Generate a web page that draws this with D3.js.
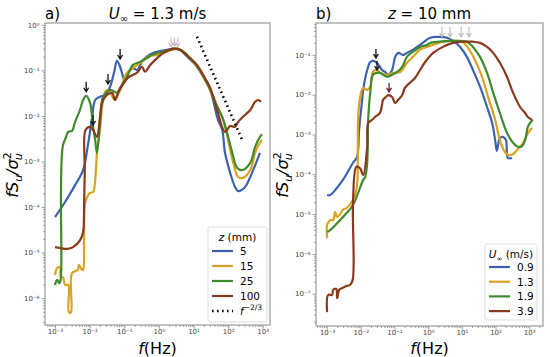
<!DOCTYPE html>
<html>
<head>
<meta charset="utf-8">
<title>Spectra</title>
<script src="https://d3js.org/d3.v7.min.js"></script>
<style>
  body { margin: 0; background: #fff; }
  text { font-family: "DejaVu Sans", sans-serif; }
</style>
</head>
<body>
<svg id="chart" width="550" height="357"></svg>
<script>
// values as log10 pairs: [log10 f, log10 fSu/su^2]
var leftZ5 = [[-3.00,-4.22],[-2.71,-3.89],[-2.42,-3.52],[-2.19,-3.19],[-2.05,-2.64],[-1.93,-2.04],[-1.84,-1.65],[-1.70,-1.58],[-1.55,-1.54],[-1.41,-1.36],[-1.29,-1.03],[-1.21,-0.79],[-1.12,-0.92],[-1.03,-1.16],[-0.98,-1.25],[-0.89,-1.05],[-0.75,-0.95],[-0.63,-0.99],[-0.46,-0.77],[-0.17,-0.62],[0.24,-0.55],[0.47,-0.51],[0.61,-0.55],[0.82,-0.70],[1.10,-0.92],[1.28,-1.14],[1.48,-1.43],[1.71,-2.09],[1.83,-2.31],[1.91,-2.81],[2.06,-3.25],[2.20,-3.56],[2.29,-3.65],[2.49,-3.56],[2.64,-3.34],[2.84,-2.97],[2.92,-2.81]];
var leftZ15 = [[-3.00,-5.49],[-2.94,-5.34],[-2.86,-5.32],[-2.83,-5.54],[-2.77,-5.54],[-2.71,-5.71],[-2.62,-5.71],[-2.60,-6.31],[-2.54,-6.31],[-2.51,-5.45],[-2.34,-5.38],[-2.31,-5.27],[-2.22,-5.38],[-2.19,-5.38],[-2.16,-4.66],[-2.13,-3.91],[-1.99,-3.69],[-1.90,-3.67],[-1.82,-3.19],[-1.79,-2.81],[-1.70,-2.31],[-1.64,-1.80],[-1.55,-1.47],[-1.47,-1.43],[-1.27,-1.65],[-1.12,-1.43],[-0.92,-1.05],[-0.75,-0.95],[-0.49,-0.81],[-0.31,-0.70],[-0.05,-0.66],[0.24,-0.59],[0.47,-0.51],[0.67,-0.57],[0.90,-0.73],[1.10,-0.92],[1.28,-1.14],[1.48,-1.43],[1.68,-1.80],[1.86,-2.09],[2.00,-2.53],[2.15,-3.03],[2.29,-3.34],[2.43,-3.36],[2.64,-3.19],[2.78,-2.81],[2.92,-2.59],[2.98,-2.53]];
var leftZ25 = [[-3.00,-5.71],[-2.94,-5.60],[-2.88,-5.67],[-2.84,-5.60],[-2.83,-3.85],[-2.81,-2.97],[-2.77,-2.64],[-2.68,-2.46],[-2.62,-2.35],[-2.51,-2.33],[-2.42,-2.13],[-2.28,-1.87],[-2.19,-1.65],[-2.10,-1.56],[-1.99,-1.71],[-1.90,-2.24],[-1.84,-2.53],[-1.79,-2.81],[-1.70,-2.15],[-1.61,-1.58],[-1.41,-1.43],[-1.21,-1.49],[-1.12,-1.38],[-0.92,-1.14],[-0.75,-0.88],[-0.54,-0.81],[-0.34,-0.73],[-0.20,-0.66],[-0.05,-0.62],[0.12,-0.59],[0.53,-0.53],[0.67,-0.57],[0.90,-0.73],[1.10,-0.90],[1.28,-1.12],[1.48,-1.41],[1.68,-1.78],[1.83,-2.02],[1.97,-2.37],[2.12,-2.81],[2.26,-3.14],[2.40,-3.19],[2.64,-3.03],[2.78,-2.68],[2.92,-2.46],[2.98,-2.40]];
var leftZ100 = [[-3.00,-4.88],[-2.86,-4.90],[-2.65,-4.92],[-2.48,-4.88],[-2.28,-4.73],[-2.19,-4.55],[-2.16,-3.91],[-2.14,-3.19],[-2.12,-2.31],[-1.99,-2.24],[-1.90,-2.31],[-1.79,-2.46],[-1.70,-2.02],[-1.64,-1.71],[-1.50,-1.54],[-1.35,-1.49],[-1.27,-1.65],[-1.18,-1.49],[-0.89,-1.16],[-0.63,-1.05],[-0.49,-0.92],[-0.40,-1.03],[-0.25,-0.88],[-0.05,-0.73],[0.12,-0.62],[0.41,-0.53],[0.61,-0.55],[0.82,-0.68],[1.10,-0.88],[1.28,-1.10],[1.48,-1.38],[1.68,-1.87],[1.91,-2.35],[2.06,-2.22],[2.20,-2.24],[2.29,-2.13],[2.43,-2.02],[2.64,-1.87],[2.78,-1.69],[2.87,-1.65],[2.95,-1.69]];
var leftSlope = [[1.10,-0.26],[2.43,-2.57]];

var rightU09 = [[-3.00,-4.52],[-2.91,-4.52],[-2.53,-4.14],[-2.23,-3.71],[-2.11,-3.56],[-2.05,-2.88],[-1.96,-2.13],[-1.93,-1.88],[-1.81,-1.38],[-1.72,-1.18],[-1.64,-1.15],[-1.52,-1.20],[-1.37,-1.38],[-1.28,-1.43],[-1.19,-1.50],[-1.07,-1.38],[-0.98,-1.05],[-0.89,-0.95],[-0.74,-1.00],[-0.63,-0.95],[-0.45,-0.87],[-0.24,-0.75],[0.06,-0.57],[0.29,-0.55],[0.56,-0.57],[0.74,-0.65],[0.95,-0.80],[1.15,-1.05],[1.33,-1.38],[1.54,-1.80],[1.75,-2.31],[1.90,-2.71],[1.99,-3.14],[2.04,-3.41],[2.13,-3.09],[2.22,-3.06],[2.31,-3.14],[2.37,-3.59],[2.49,-3.59]];
var rightU13 = [[-3.00,-5.60],[-3.00,-5.27],[-2.91,-5.15],[-2.82,-5.15],[-2.76,-4.94],[-2.70,-5.07],[-2.61,-5.00],[-2.53,-4.89],[-2.41,-4.84],[-2.23,-4.64],[-2.12,-4.34],[-2.09,-3.64],[-2.08,-2.63],[-2.02,-2.06],[-1.93,-1.83],[-1.81,-1.88],[-1.72,-1.80],[-1.64,-1.43],[-1.52,-1.38],[-1.43,-1.45],[-1.22,-1.50],[-1.04,-1.45],[-0.83,-1.43],[-0.63,-1.20],[-0.45,-1.05],[-0.24,-0.87],[0.15,-0.75],[0.44,-0.67],[0.74,-0.65],[1.01,-0.67],[1.18,-0.82],[1.39,-1.13],[1.60,-1.55],[1.78,-2.06],[1.99,-2.63],[2.13,-3.14],[2.28,-3.44],[2.37,-3.51],[2.49,-3.51],[2.64,-3.39],[2.82,-3.21],[2.93,-3.01],[3.08,-2.83]];
var rightU19 = [[-3.00,-5.45],[-2.91,-5.40],[-2.53,-5.07],[-2.23,-4.77],[-1.93,-4.14],[-1.87,-4.07],[-1.81,-3.71],[-1.78,-2.63],[-1.72,-1.95],[-1.64,-1.50],[-1.52,-1.45],[-1.43,-1.45],[-1.22,-1.55],[-1.07,-1.50],[-0.92,-1.43],[-0.77,-1.30],[-0.63,-1.05],[-0.45,-0.92],[-0.24,-0.80],[-0.03,-0.75],[0.06,-0.70],[0.35,-0.67],[0.65,-0.65],[0.95,-0.65],[1.15,-0.67],[1.33,-0.80],[1.54,-1.05],[1.75,-1.45],[1.93,-1.95],[2.13,-2.46],[2.34,-2.96],[2.52,-3.21],[2.67,-3.31],[2.79,-3.29],[2.88,-3.14],[2.96,-2.81],[3.05,-2.68],[3.11,-2.63]];
var rightU39 = [[-3.00,-7.46],[-2.97,-7.03],[-2.85,-7.03],[-2.82,-6.90],[-2.73,-6.88],[-2.70,-7.11],[-2.64,-6.90],[-2.53,-6.85],[-2.41,-6.80],[-2.32,-6.78],[-2.24,-6.65],[-2.23,-4.64],[-2.13,-3.81],[-2.02,-3.85],[-1.93,-4.02],[-1.81,-3.31],[-1.78,-2.71],[-1.66,-2.63],[-1.58,-2.56],[-1.43,-2.46],[-1.37,-2.26],[-1.34,-2.13],[-1.28,-2.08],[-1.19,-2.01],[-1.07,-2.06],[-0.98,-2.21],[-0.89,-2.13],[-0.77,-2.01],[-0.69,-1.83],[-0.54,-1.70],[-0.39,-1.58],[-0.24,-1.38],[-0.09,-1.18],[0.15,-0.95],[0.44,-0.80],[0.74,-0.70],[1.04,-0.67],[1.33,-0.67],[1.54,-0.70],[1.75,-0.80],[1.93,-0.95],[2.13,-1.20],[2.34,-1.55],[2.52,-1.95],[2.73,-2.31],[2.88,-2.46],[2.96,-2.56],[3.08,-2.63]];

// arrow tips (log10 pairs)
var leftArrowsBlack = [[-1.12,-0.75],[-2.10,-1.47],[-1.47,-1.30],[-1.90,-2.20]];
var leftArrowsGrey = [[0.35,-0.48],[0.45,-0.47],[0.55,-0.48]];
var rightArrowsBlack = [[-1.55,-1.08],[-1.52,-1.38]];
var rightArrowsRed = [[-1.16,-1.93]];
var rightArrowsGrey = [[0.41,-0.55],[0.65,-0.55],[0.98,-0.55],[1.21,-0.55]];

var leftLabels = ["5", "15", "25", "100"];
var rightLabels = ["0.9", "1.3", "1.9", "3.9"];
var colors = ["#3d62b0", "#d9a21f", "#3f8a2c", "#8a3a1c"];
var xTickExp = [-3, -2, -1, 0, 1, 2, 3];
var leftYTickExp = [0, -1, -2, -3, -4, -5, -6];
var rightYTickExp = [-1, -2, -3, -4, -5, -6, -7];

var svg = d3.select("#chart");
var sup = {"-": "\u207B", "0": "\u2070", "1": "\u00B9", "2": "\u00B2", "3": "\u00B3", "4": "\u2074", "5": "\u2075", "6": "\u2076", "7": "\u2077", "8": "\u2078", "9": "\u2079"};
function powLabel(d) {
  var e = String(Math.round(Math.log10(d)));
  return "10" + e.split("").map(function(c){ return sup[c]; }).join("");
}
function pw(e) { return Math.pow(10, e); }

function minorTicks(lo, hi) {
  var out = [];
  for (var e = lo; e <= hi; e++) for (var k = 2; k < 10; k++) out.push(k * pw(e));
  return out;
}

function drawPanel(opt) {
  var x = d3.scaleLog().domain([pw(opt.xd[0]), pw(opt.xd[1])]).range([opt.left, opt.right]);
  var y = d3.scaleLog().domain([pw(opt.yd[0]), pw(opt.yd[1])]).range([opt.bottom, opt.top]);
  var g = svg.append("g");

  g.append("clipPath").attr("id", opt.id + "clip").append("rect")
    .attr("x", opt.left).attr("y", opt.top)
    .attr("width", opt.right - opt.left).attr("height", opt.bottom - opt.top);

  // axes
  g.append("g").attr("transform", "translate(0," + opt.bottom + ")")
    .call(d3.axisBottom(x).tickValues(xTickExp.map(pw)).tickFormat(powLabel).tickSize(3.5).tickPadding(1));
  g.append("g").attr("transform", "translate(0," + opt.bottom + ")")
    .call(d3.axisBottom(x).tickValues(minorTicks(-4, 3).filter(function(v){ return v > x.domain()[0] && v < x.domain()[1]; })).tickFormat("").tickSize(2));
  g.append("g").attr("transform", "translate(" + opt.left + ",0)")
    .call(d3.axisLeft(y).tickValues(opt.yTicks.map(pw)).tickFormat(powLabel).tickSize(3.5).tickPadding(2));
  g.append("g").attr("transform", "translate(" + opt.left + ",0)")
    .call(d3.axisLeft(y).tickValues(minorTicks(-8, 0).filter(function(v){ return v > y.domain()[0] && v < y.domain()[1]; })).tickFormat("").tickSize(2));
  g.selectAll(".domain").remove();
  g.selectAll(".tick line").attr("stroke", "#777").attr("stroke-width", 0.7);
  g.selectAll(".tick text").attr("fill", "#444").style("font-size", "7px");

  g.append("rect").attr("x", opt.left).attr("y", opt.top)
    .attr("width", opt.right - opt.left).attr("height", opt.bottom - opt.top)
    .attr("fill", "none").attr("stroke", "#999").attr("stroke-width", 1.2);

  var line = d3.line()
    .x(function(d){ return x(pw(d[0])); })
    .y(function(d){ return y(pw(d[1])); })
    .curve(d3.curveCatmullRom.alpha(0.5));

  var plot = g.append("g").attr("clip-path", "url(#" + opt.id + "clip)");
  opt.series.forEach(function(s, i) {
    plot.append("path").datum(s).attr("d", line)
      .attr("fill", "none").attr("stroke", colors[i]).attr("stroke-width", 2.2)
      .attr("stroke-linejoin", "round");
  });
  if (opt.slope) {
    plot.append("path").datum(opt.slope).attr("d", d3.line()
        .x(function(d){ return x(pw(d[0])); }).y(function(d){ return y(pw(d[1])); }))
      .attr("fill", "none").attr("stroke", "#000").attr("stroke-width", 2.6)
      .attr("stroke-dasharray", "1.6,3.4");
  }

  // arrows
  opt.arrows.forEach(function(a) {
    a.pts.forEach(function(p) {
      var tx = x(pw(p[0])), ty = y(pw(p[1]));
      g.append("path")
        .attr("d", "M" + tx + "," + (ty - a.len) + "L" + tx + "," + ty +
          "M" + (tx - 2.4) + "," + (ty - 4) + "L" + tx + "," + ty + "L" + (tx + 2.4) + "," + (ty - 4))
        .attr("fill", "none").attr("stroke", a.color).attr("stroke-width", a.w);
    });
  });

  // titles
  g.append("text").attr("x", opt.left).attr("y", 19).style("font-size", "15px").text(opt.tag);
  var t = g.append("text").attr("x", (opt.left + opt.right) / 2 + opt.titleDx).attr("y", 19)
    .attr("text-anchor", "middle").style("font-size", "15px");
  opt.title(t);

  // axis labels
  var xl = g.append("text").attr("x", (opt.left + opt.right) / 2).attr("y", 354)
    .attr("text-anchor", "middle").style("font-size", "16px");
  xl.append("tspan").style("font-style", "italic").text("f");
  xl.append("tspan").text("(Hz)");

  var yl = g.append("text").attr("transform", "translate(" + opt.ylx + ",175) rotate(-90)")
    .attr("text-anchor", "middle").style("font-size", "16px").style("font-style", "italic");
  yl.append("tspan").text("fS");
  yl.append("tspan").attr("dy", 4).style("font-size", "11px").text("u");
  yl.append("tspan").attr("dy", -4).text("/\u03C3");
  yl.append("tspan").attr("dy", 4).attr("dx", -1).style("font-size", "11px").text("u");
  yl.append("tspan").attr("dy", -11).attr("dx", -6).style("font-size", "11px").style("font-style", "normal").text("2");

  // legend
  var L = opt.legend;
  var lg = g.append("g");
  lg.append("rect").attr("x", L.x).attr("y", L.y).attr("width", L.w).attr("height", L.h)
    .attr("rx", 2).attr("fill", "#fff").attr("fill-opacity", 0.85)
    .attr("stroke", "#ddd").attr("stroke-width", 1);
  var lt = lg.append("text").attr("x", L.x + L.w / 2).attr("y", L.y + 14)
    .attr("text-anchor", "middle").style("font-size", "10.5px");
  L.title(lt);
  L.items.forEach(function(it, i) {
    var yy = L.y + L.row0 + i * L.dy;
    lg.append("line").attr("x1", L.x + 4).attr("x2", L.x + 25).attr("y1", yy).attr("y2", yy)
      .attr("stroke", it.color).attr("stroke-width", it.dash ? 2.6 : 2.2)
      .attr("stroke-dasharray", it.dash ? "1.6,3.4" : null);
    var tx = lg.append("text").attr("x", L.x + L.tx).attr("y", yy + 4).style("font-size", "10.5px");
    if (it.label === "slope") {
      tx.append("tspan").style("font-style", "italic").text("f");
      tx.append("tspan").attr("dy", -5).style("font-size", "7.5px").text("\u22122/3");
    } else {
      tx.text(it.label);
    }
  });
}

drawPanel({
  id: "a", left: 45, right: 270, top: 23, bottom: 325,
  xd: [-3.29, 3.21], yd: [-6.59, 0.04], yTicks: leftYTickExp,
  series: [leftZ5, leftZ15, leftZ25, leftZ100], slope: leftSlope,
  arrows: [
    {pts: leftArrowsGrey, color: "#cdb3c2", len: 9, w: 1},
    {pts: leftArrowsBlack, color: "#111", len: 10, w: 1.3}
  ],
  tag: "a)", titleDx: 0, ylx: 18,
  title: function(t) {
    t.append("tspan").style("font-style", "italic").text("U");
    t.append("tspan").attr("dy", 3).style("font-size", "10px").text("\u221E");
    t.append("tspan").attr("dy", -3).text(" = 1.3 m/s");
  },
  legend: {
    x: 208, y: 227, w: 59, h: 95, row0: 24, dy: 15, tx: 32,
    title: function(t) {
      t.append("tspan").style("font-style", "italic").text("z");
      t.append("tspan").text(" (mm)");
    },
    items: leftLabels.map(function(l, i){ return {label: l, color: colors[i]}; })
      .concat([{label: "slope", color: "#000", dash: true}])
  }
});

drawPanel({
  id: "b", left: 316, right: 543, top: 23, bottom: 326,
  xd: [-3.33, 3.41], yd: [-7.81, -0.20], yTicks: rightYTickExp,
  series: [rightU09, rightU13, rightU19, rightU39], slope: null,
  arrows: [
    {pts: rightArrowsGrey, color: "#b9b9b9", len: 10, w: 1.1},
    {pts: rightArrowsBlack, color: "#111", len: 9, w: 1.3},
    {pts: rightArrowsRed, color: "#7a1f35", len: 9, w: 1.3}
  ],
  tag: "b)", titleDx: 0, ylx: 288,
  title: function(t) {
    t.append("tspan").style("font-style", "italic").text("z");
    t.append("tspan").text(" = 10 mm");
  },
  legend: {
    x: 485, y: 244, w: 52, h: 76, row0: 23, dy: 14.7, tx: 32,
    title: function(t) {
      t.append("tspan").style("font-style", "italic").text("U");
      t.append("tspan").attr("dy", 3).style("font-size", "7px").text("\u221E");
      t.append("tspan").attr("dy", -3).text(" (m/s)");
    },
    items: rightLabels.map(function(l, i){ return {label: l, color: colors[i]}; })
  }
});
</script>
</body>
</html>
